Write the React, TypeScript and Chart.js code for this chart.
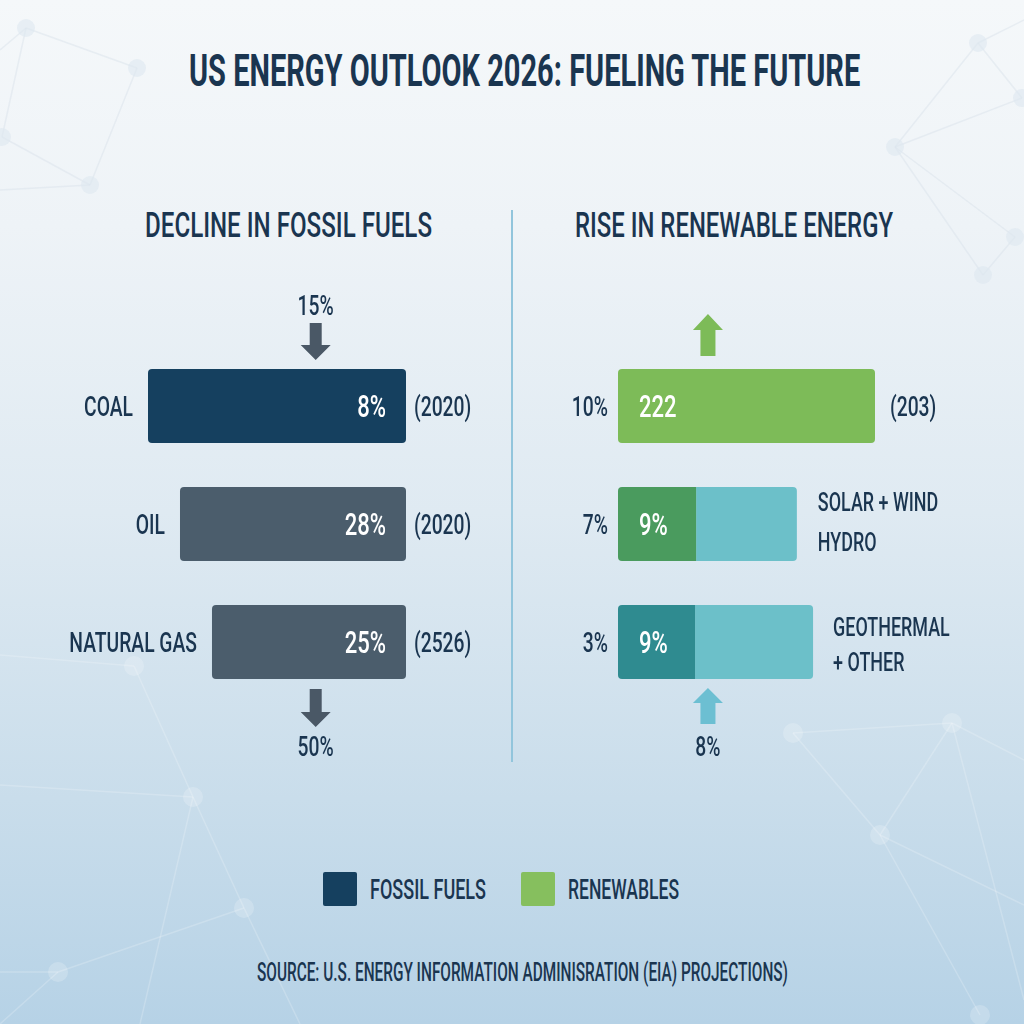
import React, { useEffect, useRef } from 'react';
import { Chart, registerables } from 'chart.js';

Chart.register(...registerables);

// ---------- data ----------
const fossilCategories = ['COAL', 'OIL', 'NATURAL GAS'];
const fossilBarLength = [100, 87.6, 75.2];
const fossilBarValues = ['8%', '28%', '25%'];
const fossilYears = ['(2020)', '(2020)', '(2526)'];
const fossilArrowTopLabel = '15%';
const fossilArrowBottomLabel = '50%';

const renewCategories = ['RENEWABLES', 'SOLAR + WIND / HYDRO', 'GEOTHERMAL + OTHER'];
const renewShareLabels = ['10%', '7%', '3%'];
const renewBarValues = ['222', '9%', '9%'];
const renewBaseLength = [100, 30.4, 30];
const renewExtraLength = [0, 39.2, 45.9];
const renewSideLabels = [['(203)'], ['SOLAR + WIND', 'HYDRO'], ['GEOTHERMAL', '+ OTHER']];
const renewArrowBottomLabel = '8%';
const arrowValue = 35;

const legendItems = ['FOSSIL FUELS', 'RENEWABLES'];

// ---------- styles ----------
const FAMILY = "Roboto, 'Liberation Sans', sans-serif";
const NAVY = '#1a3550';
const COAL = '#15405f';
const OIL = '#4b5d6c';
const ARROW_DARK = '#4a5866';
const GREEN = '#7dbb58';
const LEGEND_GREEN = '#86bf5e';
const SOLAR_DARK = '#4a9b5e';
const GEO_DARK = '#2f8b90';
const TEAL_LIGHT = '#6cc0c9';
const TEAL_ARROW = '#6cbfd2';
const LABEL_WEIGHT = 500;

let measureCtx: CanvasRenderingContext2D | null = null;
function measure(text: string, font: string) {
  if (!measureCtx) measureCtx = document.createElement('canvas').getContext('2d');
  measureCtx!.font = font;
  return measureCtx!.measureText(text).width;
}
let condenseK = 0;
function getK() {
  if (!condenseK) condenseK = 287 / measure('DECLINE IN FOSSIL FUELS', `${LABEL_WEIGHT} 35px ${FAMILY}`);
  return condenseK;
}

function drawText(ctx: CanvasRenderingContext2D, text: string, x: number, capY: number, size: number, color: string, align: 'left' | 'right' | 'center') {
  const K = getK();
  ctx.save();
  ctx.font = `${LABEL_WEIGHT} ${size}px ${FAMILY}`;
  const w = ctx.measureText(text).width * K;
  const capH = ctx.measureText('H').actualBoundingBoxAscent;
  const left = align === 'left' ? x : align === 'right' ? x - w : x - w / 2;
  ctx.translate(left, capY + capH / 2);
  ctx.scale(K, 1);
  ctx.fillStyle = color;
  ctx.textAlign = 'left';
  ctx.textBaseline = 'alphabetic';
  ctx.fillText(text, 0, 0);
  ctx.restore();
}

function drawArrow(ctx: CanvasRenderingContext2D, cx: number, tipY: number, tailY: number, shaftW: number, headW: number, headL: number, color: string) {
  const s = Math.sign(tipY - tailY);
  const hb = tipY - s * headL;
  ctx.save();
  ctx.fillStyle = color;
  ctx.beginPath();
  ctx.moveTo(cx - shaftW / 2, tailY);
  ctx.lineTo(cx + shaftW / 2, tailY);
  ctx.lineTo(cx + shaftW / 2, hb);
  ctx.lineTo(cx + headW / 2, hb);
  ctx.lineTo(cx, tipY);
  ctx.lineTo(cx - headW / 2, hb);
  ctx.lineTo(cx - shaftW / 2, hb);
  ctx.closePath();
  ctx.fill();
  ctx.restore();
}

const fossilLabelsPlugin = {
  id: 'fossilLabels',
  afterDatasetsDraw(chart: any) {
    const ctx = chart.ctx;
    const meta = chart.getDatasetMeta(0);
    const xs = chart.scales.x;
    meta.data.forEach((el: any, i: number) => {
      const l = Math.min(el.x, el.base);
      const r = Math.max(el.x, el.base);
      drawText(ctx, fossilCategories[i], l - 15, el.y, 28, NAVY, 'right');
      drawText(ctx, fossilBarValues[i], r - 20, el.y, 32, '#ffffff', 'right');
      drawText(ctx, fossilYears[i], r + 8, el.y, 28, NAVY, 'left');
    });
    const cx = xs.getPixelForValue(arrowValue);
    const first = meta.data[0];
    const top = first.y - first.height / 2;
    drawArrow(ctx, cx, top - 9, top - 46, 12, 30, 15, ARROW_DARK);
    drawText(ctx, fossilArrowTopLabel, cx, top - 64, 28, NAVY, 'center');
    const last = meta.data[meta.data.length - 1];
    const bottom = last.y + last.height / 2;
    drawArrow(ctx, cx, bottom + 48, bottom + 10, 12, 30, 15, ARROW_DARK);
    drawText(ctx, fossilArrowBottomLabel, cx, bottom + 67, 28, NAVY, 'center');
  },
};

const sideOffsets = [[0], [-23, 17], [-16, 19]];
const sideGaps = [15, 21, 20];

const renewLabelsPlugin = {
  id: 'renewLabels',
  afterDatasetsDraw(chart: any) {
    const ctx = chart.ctx;
    const m0 = chart.getDatasetMeta(0);
    const m1 = chart.getDatasetMeta(1);
    const xs = chart.scales.x;
    m0.data.forEach((el: any, i: number) => {
      const l = Math.min(el.x, el.base);
      const r = Math.max(el.x, el.base, m1.data[i].x);
      drawText(ctx, renewShareLabels[i], l - 10, el.y, 28, NAVY, 'right');
      drawText(ctx, renewBarValues[i], l + 21, el.y, 32, '#ffffff', 'left');
      renewSideLabels[i].forEach((t, j) => {
        drawText(ctx, t, r + sideGaps[i], el.y + sideOffsets[i][j], i === 0 ? 28 : 26, NAVY, 'left');
      });
    });
    const cx = xs.getPixelForValue(arrowValue);
    const first = m0.data[0];
    const top = first.y - first.height / 2;
    drawArrow(ctx, cx, top - 55, top - 13, 15, 30, 16, GREEN);
    const last = m0.data[m0.data.length - 1];
    const bottom = last.y + last.height / 2;
    drawArrow(ctx, cx, bottom + 9, bottom + 45, 15, 30, 15, TEAL_ARROW);
    drawText(ctx, renewArrowBottomLabel, cx, bottom + 67, 28, NAVY, 'center');
  },
};

function Label({ text, x, capY, size, width, weight = LABEL_WEIGHT, center = false, color = NAVY }: any) {
  const natural = measure(text, `${weight} ${size}px ${FAMILY}`);
  const k = width / natural;
  const left = center ? x - width / 2 : x;
  return (
    <div
      style={{
        position: 'absolute',
        left,
        top: capY - 0.49 * size,
        fontFamily: FAMILY,
        fontSize: size,
        fontWeight: weight,
        lineHeight: `${size}px`,
        color,
        whiteSpace: 'nowrap',
        transform: `scaleX(${k})`,
        transformOrigin: '0 50%',
      }}
    >
      {text}
    </div>
  );
}

const topNodes: [number, number][] = [[26, 28], [137, 68], [2, 137], [90, 185], [978, 43], [1022, 98], [895, 147], [1015, 237], [983, 275]];
const topLinks: [number, number, number, number][] = [
  [0, 50, 26, 28], [26, 28, 137, 68], [26, 28, 2, 137], [137, 68, 90, 185], [2, 137, 90, 185], [0, 190, 90, 185],
  [978, 43, 1024, 20], [978, 43, 1022, 98], [978, 43, 895, 147], [895, 147, 1022, 98], [895, 147, 1015, 237], [895, 147, 983, 275], [983, 275, 1015, 237],
];
const botNodes: [number, number][] = [[134, 666], [193, 797], [244, 908], [58, 972], [793, 733], [952, 723], [880, 835], [980, 1015]];
const botLinks: [number, number, number, number][] = [
  [0, 655, 134, 666], [134, 666, 193, 797], [0, 785, 193, 797], [193, 797, 244, 908], [244, 908, 58, 972], [0, 972, 58, 972], [58, 972, 0, 1024], [193, 797, 140, 1024],
  [793, 733, 952, 723], [952, 723, 1024, 760], [793, 733, 880, 835], [952, 723, 880, 835], [880, 835, 1024, 905], [880, 835, 980, 1015], [952, 723, 1024, 1000], [244, 908, 300, 1024],
];

function Background() {
  return (
    <svg width={1024} height={1024} style={{ position: 'absolute', left: 0, top: 0 }}>
      {topLinks.map((l, i) => (
        <line key={'tl' + i} x1={l[0]} y1={l[1]} x2={l[2]} y2={l[3]} stroke="#d6e0e9" strokeOpacity={0.45} strokeWidth={1.5} />
      ))}
      {topNodes.map((n, i) => (
        <circle key={'tn' + i} cx={n[0]} cy={n[1]} r={9} fill="#dde7f0" fillOpacity={0.6} />
      ))}
      {botLinks.map((l, i) => (
        <line key={'bl' + i} x1={l[0]} y1={l[1]} x2={l[2]} y2={l[3]} stroke="#ffffff" strokeOpacity={0.2} strokeWidth={1.5} />
      ))}
      {botNodes.map((n, i) => (
        <circle key={'bn' + i} cx={n[0]} cy={n[1]} r={10} fill="#ffffff" fillOpacity={0.2} />
      ))}
    </svg>
  );
}

export default function App() {
  const leftRef = useRef<HTMLCanvasElement>(null);
  const rightRef = useRef<HTMLCanvasElement>(null);

  useEffect(() => {
    const left = new Chart(leftRef.current!, {
      type: 'bar',
      data: {
        labels: fossilCategories,
        datasets: [
          {
            data: fossilBarLength,
            backgroundColor: [COAL, OIL, OIL],
            borderRadius: 4,
            borderSkipped: false,
            barPercentage: 0.627,
            categoryPercentage: 1,
          },
        ],
      },
      options: {
        indexAxis: 'y',
        animation: false,
        responsive: false,
        events: [],
        layout: { padding: { left: 148, right: 106, top: 87, bottom: 79 } },
        scales: {
          x: { display: false, min: 0, max: 100, reverse: true },
          y: { display: false },
        },
        plugins: { legend: { display: false }, tooltip: { enabled: false } },
      },
      plugins: [fossilLabelsPlugin],
    } as any);

    const right = new Chart(rightRef.current!, {
      type: 'bar',
      data: {
        labels: renewCategories,
        datasets: [
          {
            data: renewBaseLength,
            backgroundColor: [GREEN, SOLAR_DARK, GEO_DARK],
            borderRadius: (c: any) =>
              c.dataIndex === 0 ? 4 : { topLeft: 4, bottomLeft: 4, topRight: 0, bottomRight: 0 },
            borderSkipped: false,
            barPercentage: 0.627,
            categoryPercentage: 1,
          },
          {
            data: renewExtraLength,
            backgroundColor: TEAL_LIGHT,
            borderRadius: { topLeft: 0, bottomLeft: 0, topRight: 4, bottomRight: 4 },
            borderSkipped: false,
            barPercentage: 0.627,
            categoryPercentage: 1,
          },
        ],
      },
      options: {
        indexAxis: 'y',
        animation: false,
        responsive: false,
        events: [],
        layout: { padding: { left: 106, right: 149, top: 87, bottom: 79 } },
        scales: {
          x: { display: false, min: 0, max: 100, stacked: true },
          y: { display: false, stacked: true },
        },
        plugins: { legend: { display: false }, tooltip: { enabled: false } },
      },
      plugins: [renewLabelsPlugin],
    } as any);

    return () => {
      left.destroy();
      right.destroy();
    };
  }, []);

  return (
    <div
      style={{
        position: 'fixed',
        left: 0,
        top: 0,
        width: 1024,
        height: 1024,
        overflow: 'hidden',
        background: 'linear-gradient(180deg, #f5f8fa 0%, #eef3f7 22%, #dfeaf2 50%, #c9ddeb 78%, #b6d2e6 100%)',
      }}
    >
      <Background />
      <Label text="US ENERGY OUTLOOK 2026: FUELING THE FUTURE" x={525} capY={71} size={44} weight={700} width={672} center />
      <Label text="DECLINE IN FOSSIL FUELS" x={288.5} capY={225} size={35} width={287} center />
      <Label text="RISE IN RENEWABLE ENERGY" x={734} capY={225} size={35} width={318} center />
      <div style={{ position: 'absolute', left: 511, top: 210, width: 2, height: 552, background: '#92c5dc' }} />
      <canvas ref={leftRef} width={512} height={520} style={{ position: 'absolute', left: 0, top: 260 }} />
      <canvas ref={rightRef} width={512} height={520} style={{ position: 'absolute', left: 512, top: 260 }} />
      <div style={{ position: 'absolute', left: 323, top: 872, width: 34, height: 34, borderRadius: 2, background: COAL }} />
      <Label text={legendItems[0]} x={370} capY={890} size={28} width={116} />
      <div style={{ position: 'absolute', left: 521, top: 872, width: 34, height: 34, borderRadius: 2, background: LEGEND_GREEN }} />
      <Label text={legendItems[1]} x={568} capY={890} size={28} width={111} />
      <Label
        text="SOURCE: U.S. ENERGY INFORMATION ADMINISRATION (EIA) PROJECTIONS)"
        x={522.5}
        capY={972}
        size={26}
        width={531}
        center
      />
    </div>
  );
}
